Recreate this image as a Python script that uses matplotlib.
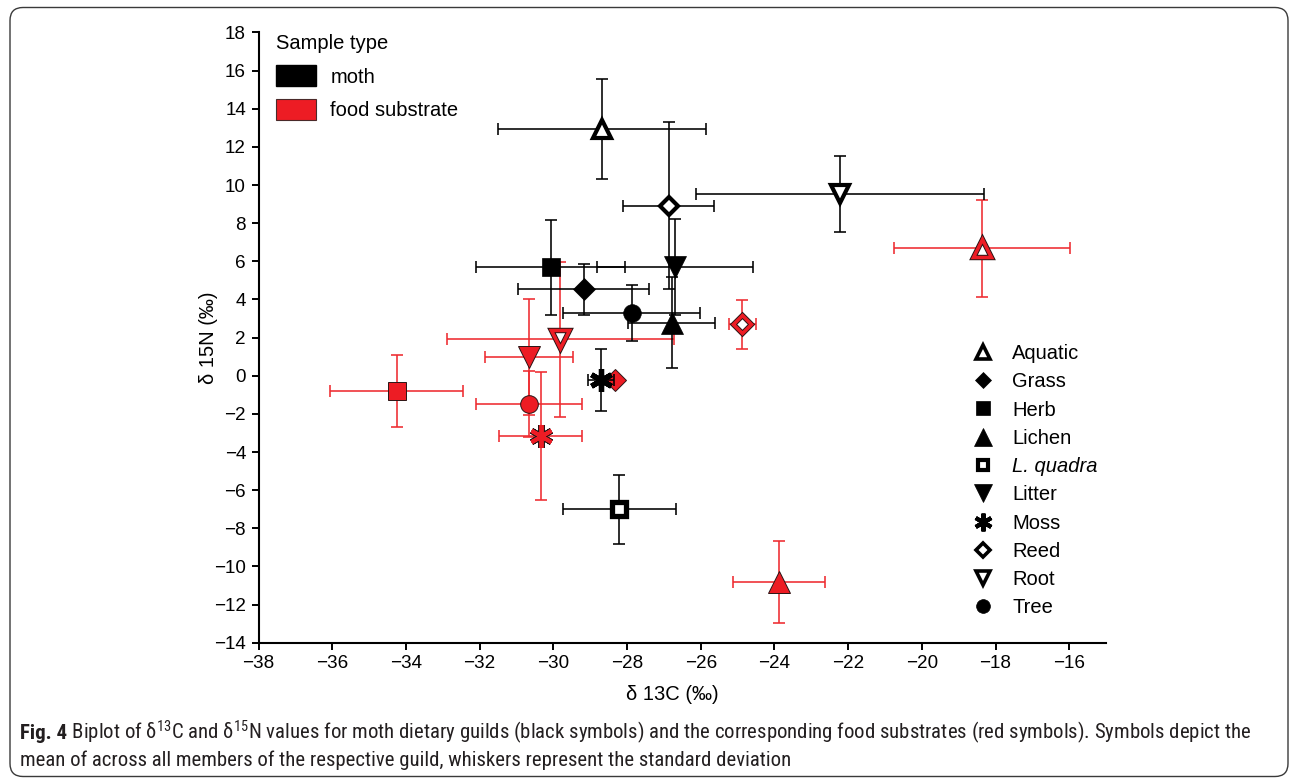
import matplotlib
matplotlib.use('Agg')
import matplotlib.pyplot as plt
from matplotlib import font_manager as fm
from matplotlib.lines import Line2D
from matplotlib.patches import Patch, FancyBboxPatch

# ---------------- data ----------------
guilds = ['Aquatic', 'Grass', 'Herb', 'Lichen', 'L. quadra', 'Litter', 'Moss', 'Reed', 'Root', 'Tree']
moth_c = [-28.68, -29.18, -30.07, -26.79, -28.21, -26.69, -28.71, -26.87, -22.22, -27.87]
moth_c_sd = [2.81, 1.77, 2.02, 1.18, 1.53, 2.12, 0.35, 1.24, 3.91, 1.86]
moth_n = [12.94, 4.53, 5.68, 2.77, -7.00, 5.71, -0.23, 8.92, 9.51, 3.30]
moth_n_sd = [2.60, 1.35, 2.50, 2.39, 1.80, 2.52, 1.64, 4.38, 1.99, 1.48]

food_guilds = ['Aquatic', 'Grass', 'Herb', 'Lichen', 'Litter', 'Moss', 'Reed', 'Root', 'Tree']
food_c = [-18.37, -28.33, -34.25, -23.87, -30.66, -30.34, -24.87, -29.81, -30.65]
food_c_sd = [2.39, 0.0, 1.81, 1.25, 1.20, 1.13, 0.37, 3.08, 1.44]
food_n = [6.68, -0.20, -0.79, -10.81, 0.96, -3.15, 2.69, 1.91, -1.47]
food_n_sd = [2.56, 0.0, 1.89, 2.15, 3.04, 3.36, 1.29, 4.07, 1.74]

x_ticks = list(range(-38, -15, 2))
y_ticks = list(range(-14, 19, 2))

sample_types = ['moth', 'food substrate']
legend_title = 'Sample type'
x_label = 'δ 13C (‰)'
y_label = 'δ 15N (‰)'
caption_bold = 'Fig. 4'
caption_1 = (' Biplot of δ$^{13}$C and δ$^{15}$N values for moth dietary guilds '
             '(black symbols) and the corresponding food substrates (red symbols). Symbols depict the')
caption_2 = 'mean of across all members of the respective guild, whiskers represent the standard deviation'

# ---------------- styles ----------------
RED = '#ed1c24'
RED_BAR = '#ee2b30'
STYLE = {
    'Aquatic':   ('^', 'open', 13.5),
    'Grass':     ('D', 'filled', 11.0),
    'Herb':      ('s', 'filled', 13.0),
    'Lichen':    ('^', 'filled', 16.0),
    'L. quadra': ('s', 'thick', 9.6),
    'Litter':    ('v', 'filled', 16.0),
    'Moss':      ((6, 2, 0), 'star', 16.5),
    'Reed':      ('D', 'open', 9.5),
    'Root':      ('v', 'open', 13.5),
    'Tree':      ('o', 'filled', 12.7),
}


def has_font(name):
    try:
        fm.findfont(fm.FontProperties(family=name), fallback_to_default=False)
        return True
    except Exception:
        return False


base_font = 'Liberation Sans' if has_font('Liberation Sans') else 'DejaVu Sans'
cap_font = base_font
cap_stretch = 'normal'
for cand in ['Liberation Sans Narrow', 'Roboto Condensed', 'Open Sans Condensed', 'DejaVu Sans Condensed']:
    if has_font(cand):
        cap_font = cand
        break
else:
    try:
        p = fm.findfont(fm.FontProperties(family='DejaVu Sans', stretch='condensed'),
                        fallback_to_default=False)
        if 'Condensed' in p:
            cap_font = 'DejaVu Sans'
            cap_stretch = 'condensed'
    except Exception:
        pass

plt.rcParams['font.family'] = [base_font, 'DejaVu Sans']
plt.rcParams['mathtext.fontset'] = 'custom'
plt.rcParams['mathtext.rm'] = cap_font
plt.rcParams['mathtext.it'] = cap_font + ':italic'
plt.rcParams['mathtext.bf'] = cap_font + ':bold'

fig = plt.figure(figsize=(12.92, 7.8), dpi=100)
W, H = 1292.0, 780.0
ax = fig.add_axes([258.5 / W, 137.3 / H, 847.6 / W, 610.2 / H])


def draw_marker(x, y, guild, food, z):
    m, kind, ms = STYLE[guild]
    if not food:
        if kind == 'filled':
            ax.plot(x, y, ls='none', marker=m, ms=ms, mfc='black', mec='black', mew=0.5, zorder=z)
        elif kind == 'open':
            ax.plot(x, y, ls='none', marker=m, ms=ms, mfc='white', mec='black', mew=3.0, zorder=z)
        elif kind == 'thick':
            ax.plot(x, y, ls='none', marker=m, ms=ms, mfc='white', mec='black', mew=3.8, zorder=z)
        else:
            ax.plot(x, y, ls='none', marker=m, ms=ms, mec='black', mew=3.8, zorder=z)
    else:
        if kind == 'filled':
            ax.plot(x, y, ls='none', marker=m, ms=ms, mfc=RED, mec='#2a1515', mew=0.7, zorder=z)
        elif kind == 'open':
            ax.plot(x, y, ls='none', marker=m, ms=ms, mfc='white', mec='#2a1515', mew=3.9, zorder=z)
            ax.plot(x, y, ls='none', marker=m, ms=ms, mfc='none', mec=RED, mew=2.5, zorder=z + 0.01)
        else:
            ax.plot(x, y, ls='none', marker=m, ms=ms, mec='#2a1515', mew=4.4, zorder=z)
            ax.plot(x, y, ls='none', marker=m, ms=ms, mec=RED, mew=2.8, zorder=z + 0.01)


def draw_series(gs, cs, csd, ns, nsd, food, z):
    col = RED_BAR if food else 'black'
    for g, x, xe, y, ye in zip(gs, cs, csd, ns, nsd):
        if xe > 0 or ye > 0:
            ax.errorbar(x, y, xerr=xe, yerr=ye, fmt='none', ecolor=col, elinewidth=1.15,
                        capsize=4.2, capthick=1.15, zorder=z)
        draw_marker(x, y, g, food, z + 0.5)


draw_series(food_guilds, food_c, food_c_sd, food_n, food_n_sd, True, 2)
draw_series(guilds, moth_c, moth_c_sd, moth_n, moth_n_sd, False, 4)

# ---------------- axes ----------------
TICK_FS = 13.6
LAB_FS = 14.5
ax.set_xlim(-38, -15)
ax.set_ylim(-14, 18)
ax.set_xticks(x_ticks)
ax.set_yticks(y_ticks)
ax.set_xticklabels([f'{t}'.replace('-', '\u2212') for t in x_ticks])
ax.set_yticklabels([f'{t}'.replace('-', '\u2212') for t in y_ticks])
for s in ['top', 'right']:
    ax.spines[s].set_visible(False)
for s in ['left', 'bottom']:
    ax.spines[s].set_linewidth(1.5)
ax.tick_params(direction='out', length=5, width=1.4, labelsize=TICK_FS, colors='black')
ax.tick_params(axis='y', pad=4)
ax.tick_params(axis='x', pad=3.5)
ax.set_xlabel(x_label, fontsize=LAB_FS)
ax.set_ylabel(y_label, fontsize=LAB_FS)
ax.xaxis.set_label_coords(0.488, -0.069)
ax.yaxis.set_label_coords(-0.048, 0.5)

# ---------------- legends ----------------
h1 = [Patch(facecolor='black', edgecolor='black'), Patch(facecolor=RED, edgecolor='#4a2a2a', linewidth=0.8)]
leg1 = fig.legend(h1, sample_types, title=legend_title, loc='upper left',
                  bbox_to_anchor=(276 / W, 1 - 34 / H), frameon=False, fontsize=LAB_FS,
                  title_fontsize=LAB_FS, handlelength=2.0, handleheight=1.2, handletextpad=0.7,
                  labelspacing=0.62, borderpad=0, borderaxespad=0, alignment='left')

h2 = []
for g in guilds:
    m, kind, ms = STYLE[g]
    s = 0.78
    if kind == 'filled':
        h2.append(Line2D([], [], ls='none', marker=m, ms=ms * s, mfc='black', mec='black', mew=0.5))
    elif kind == 'open':
        h2.append(Line2D([], [], ls='none', marker=m, ms=ms * s, mfc='white', mec='black', mew=2.6))
    elif kind == 'thick':
        h2.append(Line2D([], [], ls='none', marker=m, ms=ms * s, mfc='white', mec='black', mew=3.0))
    else:
        h2.append(Line2D([], [], ls='none', marker=m, ms=ms * s, mec='black', mew=3.0))
leg2 = fig.legend(h2, guilds, loc='upper left', bbox_to_anchor=(973 / W, 1 - 344 / H),
                  frameon=False, fontsize=LAB_FS, handlelength=1.0, handletextpad=0.95,
                  labelspacing=0.46, borderpad=0, borderaxespad=0)
leg2.get_texts()[guilds.index('L. quadra')].set_style('italic')

# ---------------- caption + border ----------------
cap_kw = dict(family=[cap_font, 'DejaVu Sans'], stretch=cap_stretch, color='#231f20')
tb = fig.text(20 / W, 1 - 733 / H, caption_bold, fontsize=12, fontweight='bold',
              va='baseline', ha='left', **cap_kw)
t1 = fig.text(20 / W, 1 - 733 / H, caption_1, fontsize=12, va='baseline', ha='left', **cap_kw)
t2 = fig.text(20 / W, 1 - 760 / H, caption_2, fontsize=12, va='baseline', ha='left', **cap_kw)
fig.canvas.draw()
r = fig.canvas.get_renderer()
wb = tb.get_window_extent(r).width
w1 = t1.get_window_extent(r).width
scale = 1228.0 / (wb + w1)
fs = 12 * scale
for t in (tb, t1, t2):
    t.set_fontsize(fs)
fig.canvas.draw()
wb = tb.get_window_extent(r).width
t1.set_x((20 + wb) / W)
tb.set_y(1 - 739 / H)
t1.set_y(1 - 739 / H)
t2.set_y(1 - 766 / H)

box = FancyBboxPatch((0.10, 0.035), 12.78, 7.69, boxstyle='round,pad=0,rounding_size=0.13',
                     transform=fig.dpi_scale_trans, facecolor='none', edgecolor='#3a3a3a',
                     linewidth=1.0, zorder=0)
fig.add_artist(box)

fig.savefig('out.png', dpi=100)
